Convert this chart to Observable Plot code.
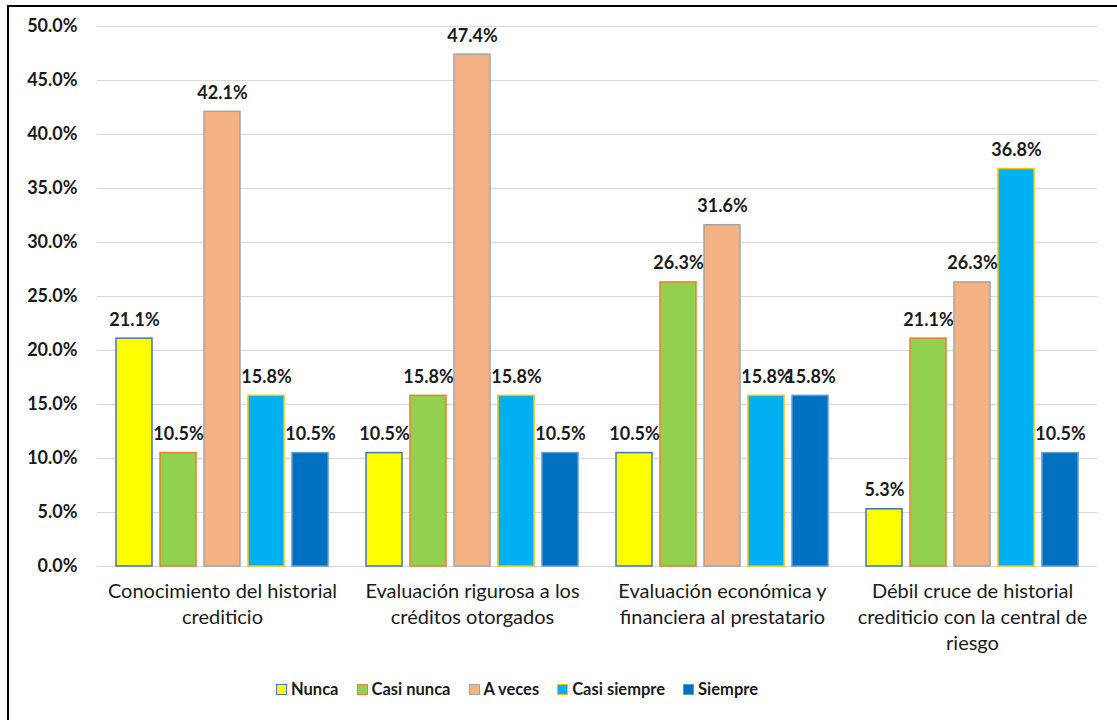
<!DOCTYPE html>
<html>
<head>
<meta charset="utf-8">
<script src="https://cdn.jsdelivr.net/npm/d3@7"></script>
<script src="https://cdn.jsdelivr.net/npm/@observablehq/plot@0.6"></script>
<style>
  html, body { margin: 0; padding: 0; background: #fff; overflow: hidden; width: 1117px; height: 720px; }
  #frame { position: absolute; left: 7px; top: 5px; width: 1200px; height: 800px; border: 2px solid #000; box-sizing: border-box; }
  #chart { position: absolute; left: 0; top: 0; }
  #legend { position: absolute; left: 276px; top: 679px; display: flex; align-items: center; font-family: Lato, sans-serif; font-weight: bold; font-size: 16.5px; color: #1a1a1a; }
  .item { display: flex; align-items: center; margin-right: 18px; }
  .sw { width: 9px; height: 9px; border: 1.5px solid; margin-right: 4px; }
</style>
</head>
<body>
<div id="frame"></div>
<div id="chart"></div>
<div id="legend"></div>
<script>
const categories = [
  "Conocimiento del historial\ncrediticio",
  "Evaluación rigurosa a los\ncréditos otorgados",
  "Evaluación económica y\nfinanciera al prestatario",
  "Débil cruce de historial\ncrediticio con la central de\nriesgo"
];
const series = ["Nunca", "Casi nunca", "A veces", "Casi siempre", "Siempre"];
const nunca       = [21.1, 10.5, 10.5, 5.3];
const casiNunca   = [10.5, 15.8, 26.3, 21.1];
const aVeces      = [42.1, 47.4, 31.6, 26.3];
const casiSiempre = [15.8, 15.8, 15.8, 36.8];
const siempre     = [10.5, 10.5, 15.8, 10.5];
const yTicks = [0, 5, 10, 15, 20, 25, 30, 35, 40, 45, 50];

const fills   = ["#FFFF00", "#92D050", "#F4B183", "#00B0F0", "#0070C0"];
const strokes = ["#4472C4", "#ED7D31", "#A5A5A5", "#FFC000", "#5B9BD5"];

const seriesValues = [nunca, casiNunca, aVeces, casiSiempre, siempre];
const data = [];
categories.forEach((c, i) => {
  series.forEach((s, j) => data.push({category: c, series: s, value: seriesValues[j][i] / 100}));
});

const font = "Lato, sans-serif";
const chart = Plot.plot({
  width: 1117,
  height: 665,
  marginLeft: 95,
  marginRight: 19,
  marginTop: 26,
  marginBottom: 99,
  style: {fontFamily: font, color: "#1a1a1a", background: "transparent"},
  fx: {domain: categories, padding: 0, label: null},
  x: {domain: series, paddingInner: 0.18, paddingOuter: 0.37, axis: null},
  y: {domain: [0, 0.5], label: null},
  color: {domain: series, range: fills},
  marks: [
    Plot.gridY(yTicks.map(d => d / 100), {stroke: "#D9D9D9", strokeOpacity: 1, strokeWidth: 1.2, facetAnchor: null}),
    Plot.axisY(yTicks.map(d => d / 100), {
      tickFormat: d => (d * 100).toFixed(1) + "%",
      tickSize: 0, tickPadding: 20, fontSize: 18, fontWeight: "bold", label: null
    }),
    Plot.axisFx({
      anchor: "bottom",
      tickSize: 0, tickPadding: 13, fontSize: 20, lineHeight: 1.3, label: null
    }),
    Plot.barY(data, {
      fx: "category", x: "series", y: "value",
      fill: "series",
      stroke: d => strokes[series.indexOf(d.series)],
      strokeWidth: 1.5
    }),
    Plot.text(data, {
      fx: "category", x: "series", y: "value",
      text: d => (d.value * 100).toFixed(1) + "%",
      lineAnchor: "bottom", dy: -13,
      fontSize: 18, fontWeight: "bold", fill: "#1a1a1a"
    })
  ]
});
document.getElementById("chart").appendChild(chart);

const legend = document.getElementById("legend");
series.forEach((s, j) => {
  const item = document.createElement("div");
  item.className = "item";
  const sw = document.createElement("div");
  sw.className = "sw";
  sw.style.background = fills[j];
  sw.style.borderColor = strokes[j];
  const t = document.createElement("span");
  t.textContent = s;
  item.appendChild(sw);
  item.appendChild(t);
  legend.appendChild(item);
});
</script>
</body>
</html>
